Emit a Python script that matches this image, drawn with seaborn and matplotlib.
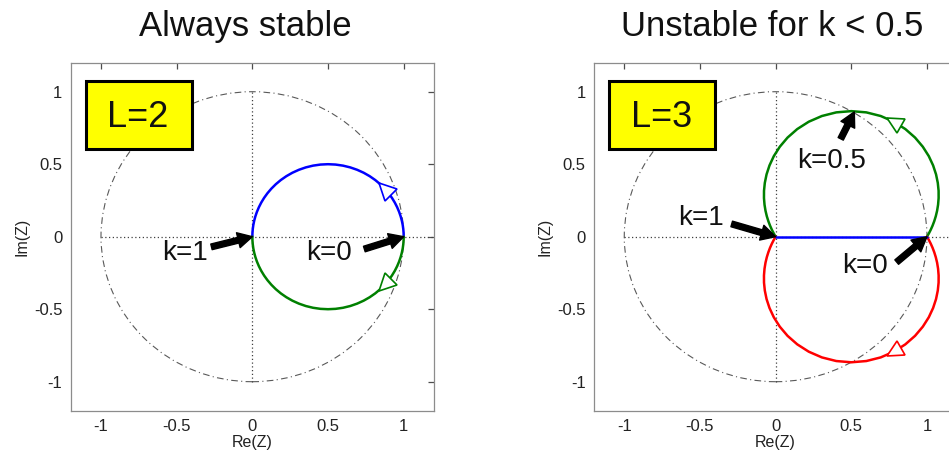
import numpy as np
import pandas as pd
import matplotlib
matplotlib.use("Agg")
import matplotlib.pyplot as plt
from matplotlib.markers import MarkerStyle
from matplotlib.transforms import Affine2D
from matplotlib.patches import Circle, Rectangle
from matplotlib.ticker import FixedLocator, FixedFormatter
import seaborn as sns

# Loop gain values at which the closed-loop poles are evaluated
gain_k = [0.000, 0.025, 0.050, 0.075, 0.100, 0.125, 0.150, 0.175, 0.200, 0.225,
          0.250, 0.275, 0.300, 0.325, 0.350, 0.375, 0.400, 0.425, 0.450, 0.475,
          0.500, 0.525, 0.550, 0.575, 0.600, 0.625, 0.650, 0.675, 0.700, 0.725,
          0.750, 0.775, 0.800, 0.825, 0.850, 0.875, 0.900, 0.925, 0.950, 0.975, 1.000]

# L = 2 : upper pole branch (the lower branch is its complex conjugate)
l2_upper_re = [1.0000, 0.9993, 0.9972, 0.9935, 0.9878, 0.9800, 0.9698, 0.9569, 0.9412, 0.9223,
               0.9000, 0.8742, 0.8448, 0.8118, 0.7752, 0.7353, 0.6923, 0.6467, 0.5990, 0.5499,
               0.5000, 0.4501, 0.4010, 0.3533, 0.3077, 0.2647, 0.2248, 0.1882, 0.1552, 0.1258,
               0.1000, 0.0777, 0.0588, 0.0431, 0.0302, 0.0200, 0.0122, 0.0065, 0.0028, 0.0007, 0.0000]
l2_upper_im = [0.0000, 0.0256, 0.0525, 0.0806, 0.1098, 0.1400, 0.1711, 0.2030, 0.2353, 0.2678,
               0.3000, 0.3316, 0.3621, 0.3909, 0.4174, 0.4412, 0.4615, 0.4780, 0.4901, 0.4975,
               0.5000, 0.4975, 0.4901, 0.4780, 0.4615, 0.4412, 0.4174, 0.3909, 0.3621, 0.3316,
               0.3000, 0.2678, 0.2353, 0.2030, 0.1711, 0.1400, 0.1098, 0.0806, 0.0525, 0.0256, 0.0000]

# L = 3 : upper complex branch (lower one is its conjugate) and the real pole
l3_upper_re = [1.0000, 1.0125, 1.0248, 1.0367, 1.0479, 1.0581, 1.0668, 1.0733, 1.0769, 1.0767,
               1.0714, 1.0599, 1.0405, 1.0119, 0.9724, 0.9211, 0.8571, 0.7810, 0.6942, 0.5993,
               0.5000, 0.4007, 0.3058, 0.2190, 0.1429, 0.0789, 0.0276, -0.0119, -0.0405, -0.0599,
               -0.0714, -0.0767, -0.0769, -0.0733, -0.0668, -0.0581, -0.0479, -0.0367, -0.0248,
               -0.0125, 0.0000]
l3_upper_im = [0.0000, 0.0228, 0.0480, 0.0759, 0.1068, 0.1410, 0.1788, 0.2206, 0.2665, 0.3167,
               0.3711, 0.4297, 0.4915, 0.5557, 0.6205, 0.6837, 0.7423, 0.7930, 0.8324, 0.8574,
               0.8660, 0.8574, 0.8324, 0.7930, 0.7423, 0.6837, 0.6205, 0.5557, 0.4915, 0.4297,
               0.3711, 0.3167, 0.2665, 0.2206, 0.1788, 0.1410, 0.1068, 0.0759, 0.0480, 0.0228, 0.0000]
l3_real_re = [1.000, 0.975, 0.950, 0.925, 0.900, 0.875, 0.850, 0.825, 0.800, 0.775,
              0.750, 0.725, 0.700, 0.675, 0.650, 0.625, 0.600, 0.575, 0.550, 0.525,
              0.500, 0.475, 0.450, 0.425, 0.400, 0.375, 0.350, 0.325, 0.300, 0.275,
              0.250, 0.225, 0.200, 0.175, 0.150, 0.125, 0.100, 0.075, 0.050, 0.025, 0.000]
l3_real_im = [0.0] * 41

panel_titles = ["Always stable", "Unstable for k < 0.5"]
panel_tags = ["L=2", "L=3"]
tick_values = [-1, -0.5, 0, 0.5, 1]
tick_labels = ["-1", "-0.5", "0", "0.5", "1"]

BLUE = "#0000ff"
GREEN = "#008000"
RED = "#ff0000"

sns.set_style("white")
plt.rcParams["font.family"] = ["Liberation Sans", "DejaVu Sans"]


def branch_frame(re, im):
    return pd.DataFrame({"k": gain_k, "re": re, "im": im})


def draw_branch(ax, df, color):
    sns.lineplot(data=df, x="re", y="im", sort=False, estimator=None,
                 color=color, lw=1.8, ax=ax, legend=False, zorder=4)


def direction_marker(ax, df, i, color):
    # open triangle at sample i, pointing along increasing gain
    x0, y0 = df["re"].iloc[i - 1], df["im"].iloc[i - 1]
    x1, y1 = df["re"].iloc[i + 1], df["im"].iloc[i + 1]
    ang = np.degrees(np.arctan2((y1 - y0) * 0.957, x1 - x0))
    m = MarkerStyle(">", transform=Affine2D().rotate_deg(ang))
    ax.plot([df["re"].iloc[i]], [df["im"].iloc[i]], marker=m, ms=12, mfc="white",
            mec=color, mew=1.2, ls="none", zorder=5)


def pointer(ax, text, head, tail, text_xy):
    ax.annotate("", xy=head, xytext=tail,
                arrowprops=dict(arrowstyle="simple,head_length=0.8,head_width=0.85,tail_width=0.32",
                                color="black", mutation_scale=13, shrinkA=0, shrinkB=0),
                zorder=6)
    ax.text(text_xy[0], text_xy[1], text, fontsize=20, ha="center", va="center",
            color="#111111", zorder=6)


def style_axes(ax, title, tag, title_x):
    ax.set_xlim(-1.2, 1.2)
    ax.set_ylim(-1.2, 1.2)
    ax.add_patch(Circle((0, 0), 1, fill=False, ls=(0, (6, 3, 1, 3)), lw=0.8,
                        color="0.35", zorder=1))
    ax.vlines(0, -1, 1, colors="0.25", linestyles=(0, (1, 2)), lw=0.9, zorder=1)
    ax.hlines(0, -1, 1.2, colors="0.25", linestyles=(0, (1, 2)), lw=0.9, zorder=1)
    for sp in ax.spines.values():
        sp.set_color("0.55")
        sp.set_linewidth(0.9)
    ax.xaxis.set_major_locator(FixedLocator(tick_values))
    ax.xaxis.set_major_formatter(FixedFormatter(tick_labels))
    ax.yaxis.set_major_locator(FixedLocator(tick_values))
    ax.yaxis.set_major_formatter(FixedFormatter(tick_labels))
    ax.tick_params(direction="in", top=True, right=True, length=4, width=0.9,
                   color="0.3", labelsize=12, labelcolor="#222222", pad=6)
    ax.set_xlabel("Re(Z)", fontsize=11.5, labelpad=1, color="#222222")
    ax.set_ylabel("Im(Z)", fontsize=11.5, labelpad=3, color="#222222")
    ax.set_title(title, fontsize=25, pad=19, color="#111111", x=title_x)
    ax.add_patch(Rectangle((-1.1, 0.605), 0.70, 0.47, fc="#ffff00", ec="black",
                           lw=2.2, zorder=6))
    ax.text(-0.755, 0.825, tag, fontsize=26, ha="center", va="center",
            color="#111111", zorder=7)


fig = plt.figure(figsize=(9.49, 4.59), dpi=100)
ax1 = fig.add_axes([0.0745, 0.1052, 0.3828, 0.7582])
ax2 = fig.add_axes([0.6259, 0.1052, 0.3828, 0.7582])

# ---- L = 2 ----
style_axes(ax1, panel_titles[0], panel_tags[0], 0.48)
l2_up = branch_frame(l2_upper_re, l2_upper_im)
l2_lo = branch_frame(l2_upper_re, [-v for v in l2_upper_im])
draw_branch(ax1, l2_up, BLUE)
draw_branch(ax1, l2_lo, GREEN)
direction_marker(ax1, l2_up, 11, BLUE)
direction_marker(ax1, l2_lo, 11, GREEN)
k1 = (l2_up["re"].iloc[-1], l2_up["im"].iloc[-1])
k0 = (l2_up["re"].iloc[0], l2_up["im"].iloc[0])
pointer(ax1, "k=1", k1, (-0.27, -0.07), (-0.445, -0.115))
pointer(ax1, "k=0", k0, (0.74, -0.085), (0.505, -0.115))

# ---- L = 3 ----
style_axes(ax2, panel_titles[1], panel_tags[1], 0.49)
l3_up = branch_frame(l3_upper_re, l3_upper_im)
l3_lo = branch_frame(l3_upper_re, [-v for v in l3_upper_im])
l3_rl = branch_frame(l3_real_re, l3_real_im)
draw_branch(ax2, l3_up, GREEN)
draw_branch(ax2, l3_lo, RED)
draw_branch(ax2, l3_rl, BLUE)
direction_marker(ax2, l3_up, 17, GREEN)
direction_marker(ax2, l3_lo, 17, RED)
i_half = gain_k.index(0.5)
k_half = (l3_up["re"].iloc[i_half], l3_up["im"].iloc[i_half])
k1 = (l3_up["re"].iloc[-1], l3_up["im"].iloc[-1])
k0 = (l3_up["re"].iloc[0], l3_up["im"].iloc[0])
pointer(ax2, "k=1", k1, (-0.29, 0.088), (-0.49, 0.13))
pointer(ax2, "k=0.5", (k_half[0] + 0.02, k_half[1] - 0.005), (0.43, 0.675), (0.37, 0.52))
pointer(ax2, "k=0", k0, (0.80, -0.175), (0.59, -0.20))

fig.savefig("out.png", dpi=100)
